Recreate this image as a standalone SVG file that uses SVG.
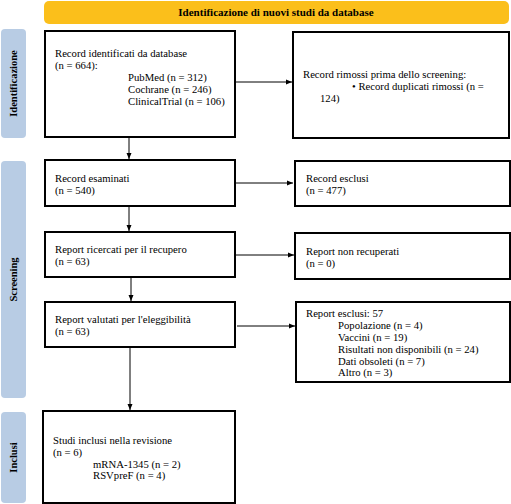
<svg xmlns="http://www.w3.org/2000/svg" width="511" height="504" viewBox="0 0 511 504">
<style>
.box{fill:#fff;stroke:#000;stroke-width:2}
.side{fill:#b8cce4}
.t{font-family:"Liberation Serif","DejaVu Serif",serif;font-size:10.7px;fill:#000}
.b{font-family:"Liberation Serif","DejaVu Serif",serif;font-size:10.5px;font-weight:bold;fill:#000}
.c{stroke:#000;stroke-width:1;fill:none}
</style>
<defs>
<marker id="ah" markerWidth="6" markerHeight="6" refX="6" refY="3" orient="auto" markerUnits="userSpaceOnUse">
<path d="M0,0.5 L6,3 L0,5.5 Z" fill="#000"/>
</marker>
</defs>
<rect width="511" height="504" fill="#fff"/>
<g id="banner">
<rect x="44" y="1" width="465" height="23" rx="5" fill="#fbbf1b"/>
<text class="b" x="276" y="16" text-anchor="middle" style="font-size:11px">Identificazione di nuovi studi da database</text>
</g>
<g id="side-identificazione">
<rect class="side" x="1" y="29" width="25" height="109" rx="4"/>
<text class="b" transform="translate(17,83.5) rotate(-90)" text-anchor="middle">Identificazione</text>
</g>
<g id="side-screening">
<rect class="side" x="1" y="161" width="25" height="237" rx="4"/>
<text class="b" transform="translate(17,279.5) rotate(-90)" text-anchor="middle">Screening</text>
</g>
<g id="side-inclusi">
<rect class="side" x="1" y="412" width="25" height="91" rx="4"/>
<text class="b" transform="translate(17,457.5) rotate(-90)" text-anchor="middle">Inclusi</text>
</g>
<g id="connectors">
<line class="c" x1="235" y1="82" x2="292" y2="82" marker-end="url(#ah)"/>
<line class="c" x1="129" y1="137" x2="129" y2="159" marker-end="url(#ah)"/>
<line class="c" x1="235" y1="183" x2="293" y2="183" marker-end="url(#ah)"/>
<line class="c" x1="129" y1="206" x2="129" y2="231" marker-end="url(#ah)"/>
<line class="c" x1="235" y1="255" x2="294" y2="255" marker-end="url(#ah)"/>
<line class="c" x1="131" y1="277" x2="131" y2="301" marker-end="url(#ah)"/>
<line class="c" x1="237" y1="326" x2="295" y2="326" marker-end="url(#ah)"/>
<line class="c" x1="130" y1="347" x2="130" y2="410" marker-end="url(#ah)"/>
</g>
<g id="n1">
<rect class="box" x="45" y="31" width="190" height="106"/>
<text class="t" x="55" y="57">Record identificati da database</text>
<text class="t" x="55" y="69">(n = 664):</text>
<text class="t" x="128" y="81">PubMed (n = 312)</text>
<text class="t" x="128" y="93">Cochrane (n = 246)</text>
<text class="t" x="128" y="105">ClinicalTrial (n = 106)</text>
</g>
<g id="n2">
<rect class="box" x="293" y="32" width="216" height="106"/>
<text class="t" x="303" y="78">Record rimossi prima dello screening:</text>
<text class="t" x="352" y="90">• Record duplicati rimossi (n =</text>
<text class="t" x="320" y="102">124)</text>
</g>
<g id="n3">
<rect class="box" x="45" y="160" width="190" height="46"/>
<text class="t" x="55" y="182">Record esaminati</text>
<text class="t" x="55" y="194">(n = 540)</text>
</g>
<g id="n4">
<rect class="box" x="295" y="161" width="215" height="45"/>
<text class="t" x="306" y="182">Record esclusi</text>
<text class="t" x="306" y="194">(n = 477)</text>
</g>
<g id="n5">
<rect class="box" x="45" y="232" width="190" height="45"/>
<text class="t" x="55" y="253">Report ricercati per il recupero</text>
<text class="t" x="55" y="265">(n = 63)</text>
</g>
<g id="n6">
<rect class="box" x="295" y="233" width="215" height="46"/>
<text class="t" x="306" y="255">Report non recuperati</text>
<text class="t" x="306" y="267">(n = 0)</text>
</g>
<g id="n7">
<rect class="box" x="45" y="302" width="190" height="45"/>
<text class="t" x="55" y="323">Report valutati per l'eleggibilità</text>
<text class="t" x="55" y="335">(n = 63)</text>
</g>
<g id="n8">
<rect class="box" x="296" y="302" width="214" height="80"/>
<text class="t" x="306" y="317">Report esclusi: 57</text>
<text class="t" x="338" y="329">Popolazione (n = 4)</text>
<text class="t" x="338" y="341">Vaccini (n = 19)</text>
<text class="t" x="338" y="353">Risultati non disponibili (n = 24)</text>
<text class="t" x="338" y="364.5">Dati obsoleti (n = 7)</text>
<text class="t" x="338" y="376">Altro (n = 3)</text>
</g>
<g id="n9">
<rect class="box" x="43" y="411" width="192" height="92"/>
<text class="t" x="53" y="444">Studi inclusi nella revisione</text>
<text class="t" x="53" y="456">(n = 6)</text>
<text class="t" x="93" y="468">mRNA-1345 (n = 2)</text>
<text class="t" x="93" y="479">RSVpreF (n = 4)</text>
</g>
</svg>
